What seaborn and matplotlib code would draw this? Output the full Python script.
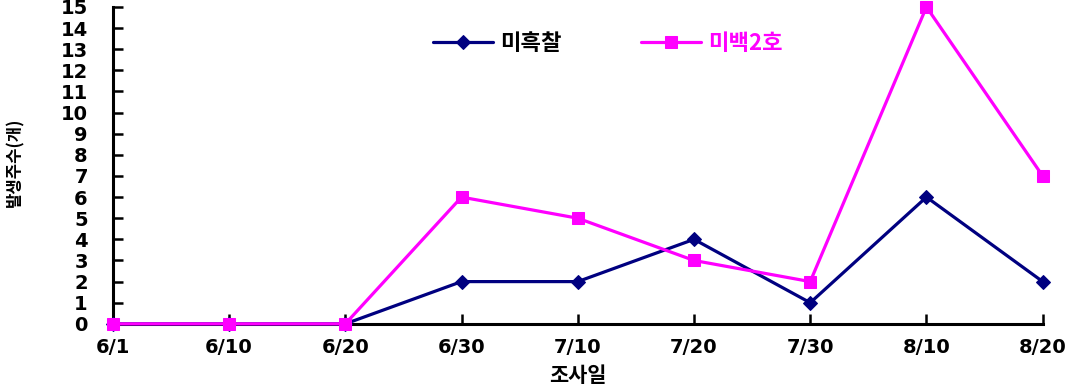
import matplotlib
matplotlib.use("Agg")
import matplotlib.pyplot as plt
import seaborn as sns
import pandas as pd
import numpy as np

dates = ["6/1", "6/10", "6/20", "6/30", "7/10", "7/20", "7/30", "8/10", "8/20"]
mihukchal = [0, 0, 0, 2, 2, 4, 1, 6, 2]
mibaek2ho = [0, 0, 0, 6, 5, 3, 2, 15, 7]
series_names = ["미흑찰", "미백2호"]
y_ticks = list(range(0, 16))

sns.set_theme(style="white")
plt.rcParams['font.family'] = ['Noto Sans CJK KR', 'DejaVu Sans']
plt.rcParams['text.color'] = 'black'

df = pd.DataFrame({
    "idx": list(range(len(dates))) * 2,
    "value": mihukchal + mibaek2ho,
    "series": [series_names[0]] * len(dates) + [series_names[1]] * len(dates),
})

fig = plt.figure(figsize=(10.85, 3.86), dpi=100)
ax = fig.add_axes([0.104, 0.161, 0.857, 0.821])

colors = {series_names[0]: "#000080", series_names[1]: "#FF00FF"}
markers = {series_names[0]: "D", series_names[1]: "s"}
sizes = {series_names[0]: 7, series_names[1]: 9}

for name in series_names:
    sub = df[df["series"] == name]
    sns.lineplot(data=sub, x="idx", y="value", ax=ax, color=colors[name],
                 marker=markers[name], markersize=sizes[name], linewidth=2.3,
                 markeredgecolor=colors[name], label=name, clip_on=False, zorder=3)

ax.set_xlim(0, len(dates) - 1)
ax.set_ylim(0, 15)
ax.set_xticks(range(len(dates)))
ax.set_xticklabels(dates)
ax.set_yticks(y_ticks)
ax.set_yticklabels([str(t) for t in y_ticks])
ax.set_ylabel("")

for s in ["top", "right"]:
    ax.spines[s].set_visible(False)
for s in ["left", "bottom"]:
    ax.spines[s].set_color("black")
    ax.spines[s].set_linewidth(2.2)

ax.tick_params(axis="both", which="major", bottom=True, left=True, direction="in",
               length=7, width=1.8, colors="black", labelsize=14)
ax.tick_params(axis="x", pad=10)
ax.tick_params(axis="y", pad=18)
for lab in ax.get_xticklabels() + ax.get_yticklabels():
    lab.set_family(['DejaVu Sans'])
    lab.set_fontweight("bold")

ax.set_xlabel("조사일", fontsize=15, fontweight="bold", labelpad=6, color="black")
fig.text(15 / 1085, 1 - 162 / 386, "발생주수(개)", rotation=90, ha="center", va="center",
         fontsize=12, fontweight="bold", color="black")

leg = ax.legend(loc="upper left", bbox_to_anchor=(0.323, 0.985), ncol=2,
                frameon=False, fontsize=16, handlelength=2.7, columnspacing=3.6,
                handletextpad=0.3)
for txt in leg.get_texts():
    txt.set_fontweight("bold")
    txt.set_color("black")
leg.get_texts()[1].set_color("#FF00FF")

fig.savefig("out.png", dpi=100, facecolor="white")
